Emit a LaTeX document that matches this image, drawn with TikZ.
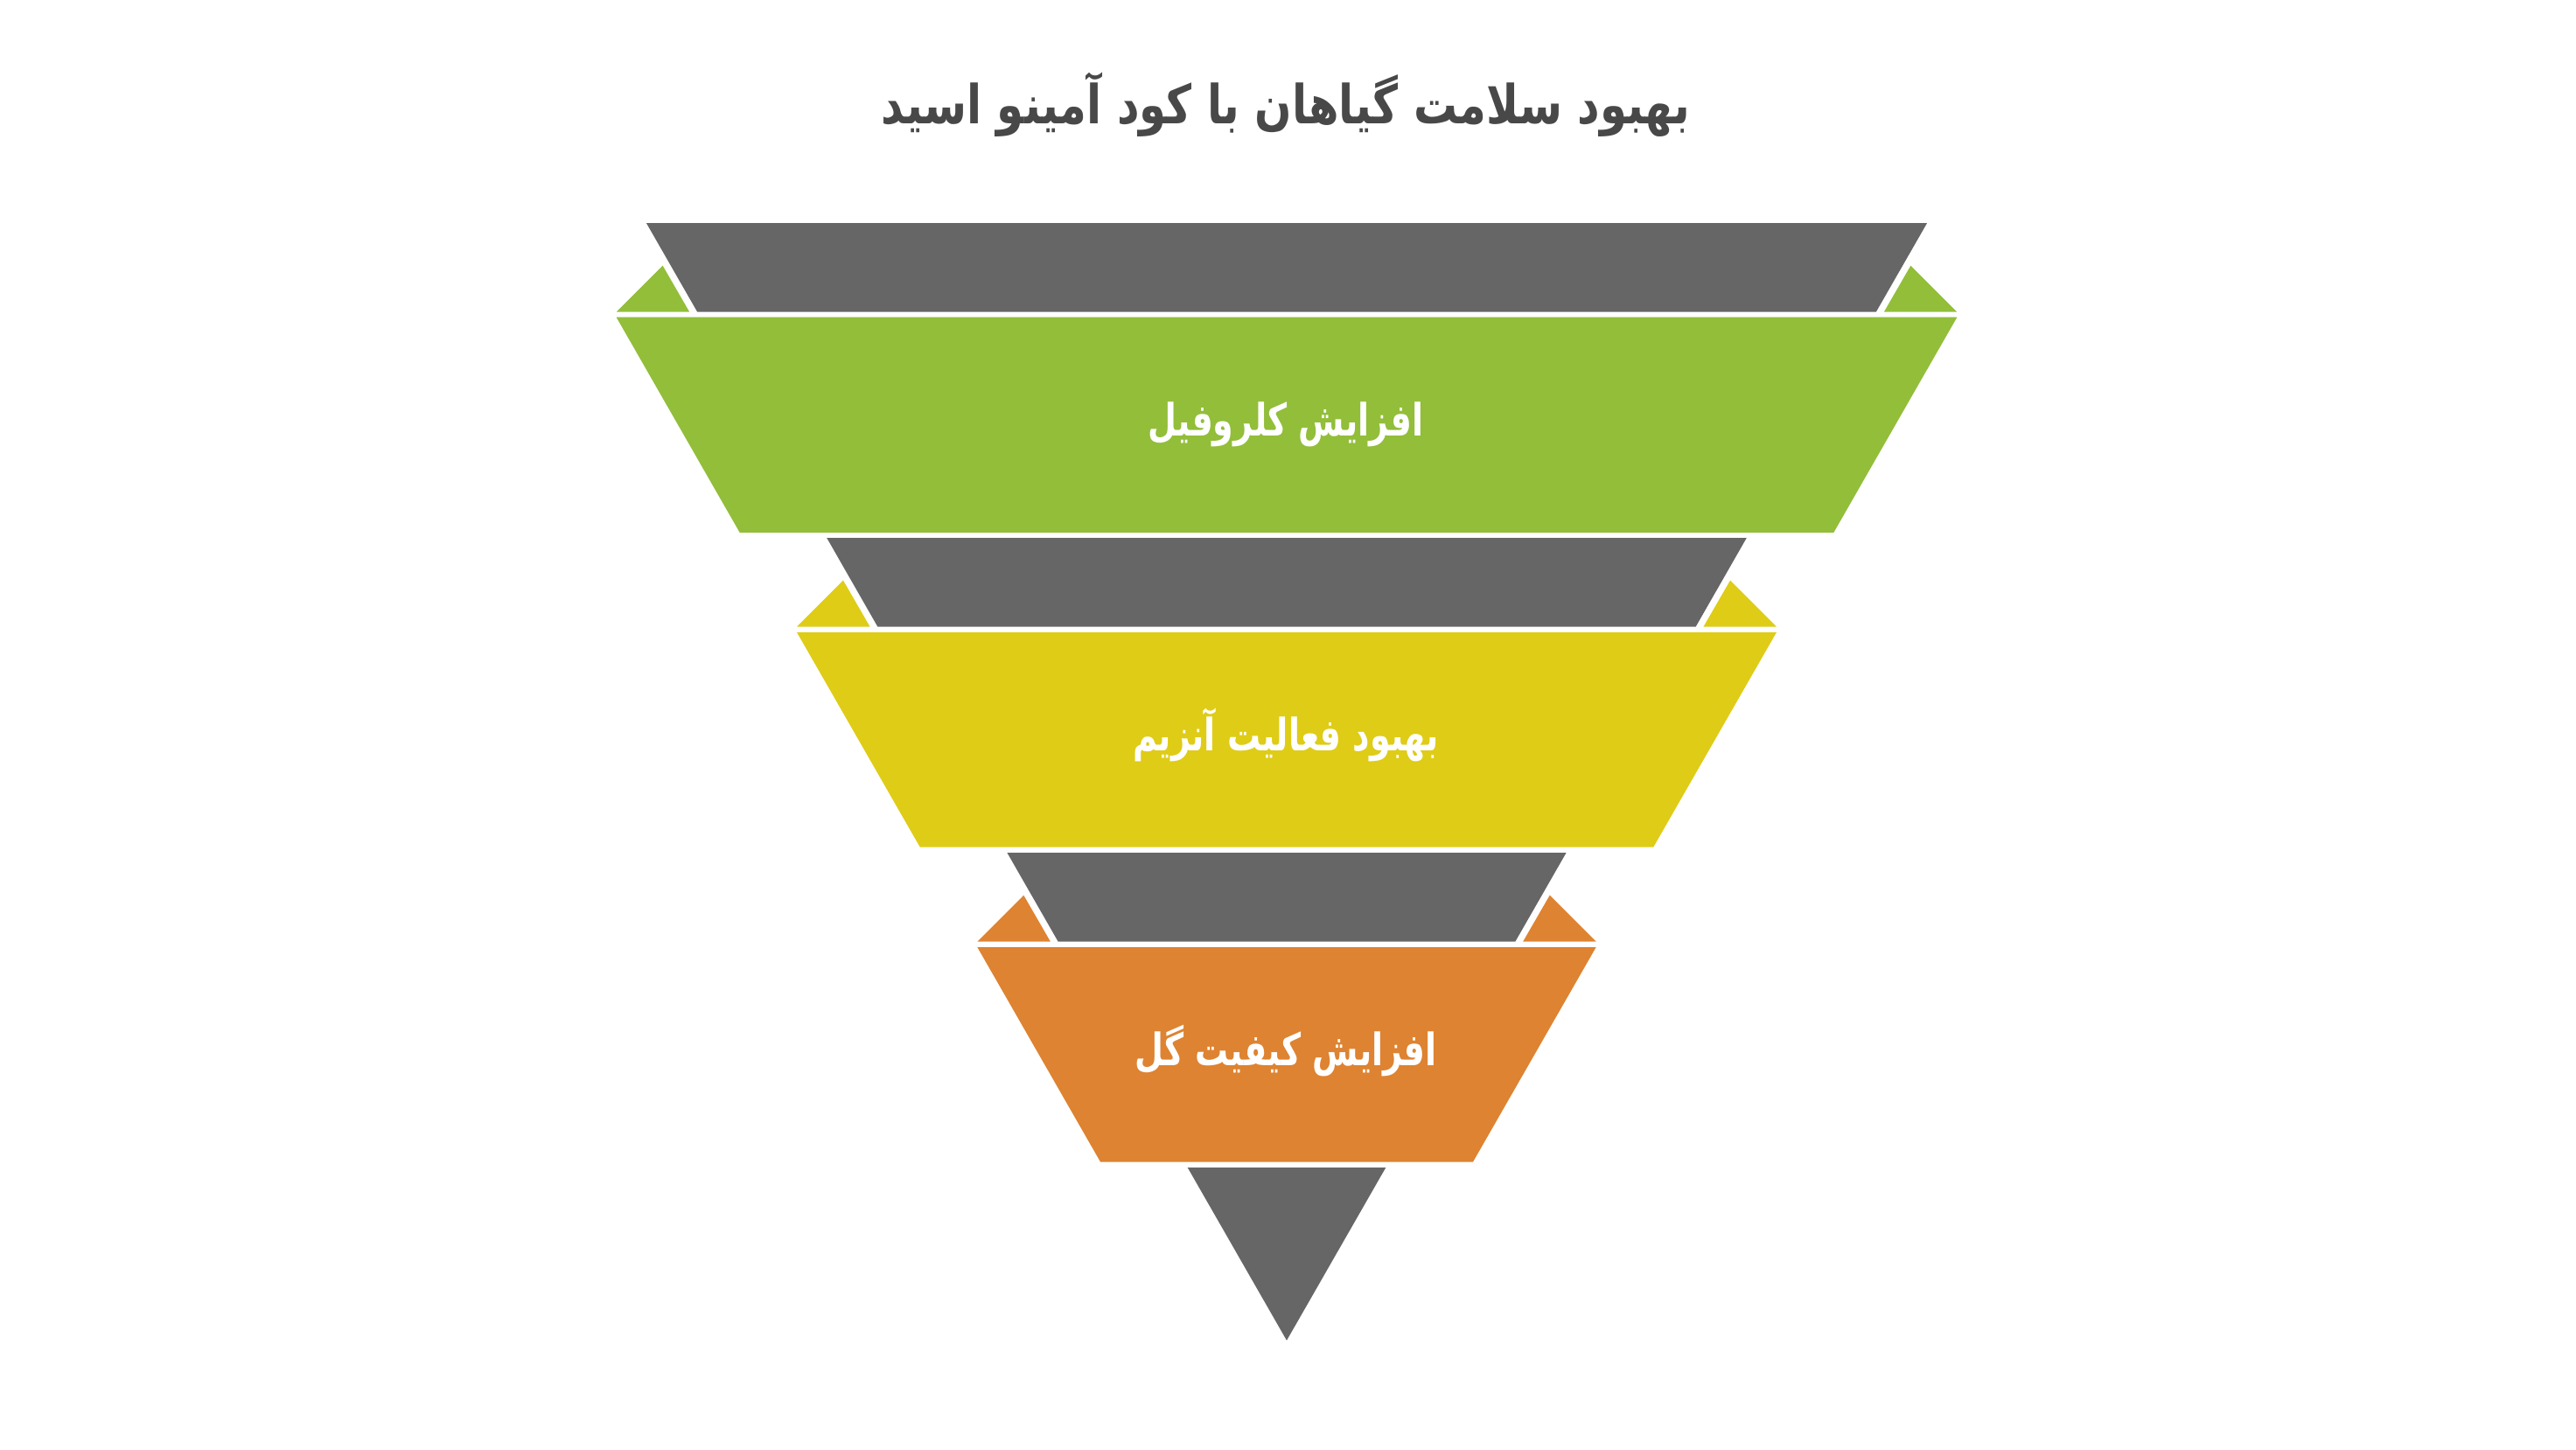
\documentclass[tikz,border=0pt]{standalone}
\usepackage{fontspec}
\newfontfamily\titlefont[Script=Arabic,FakeStretch=0.81]{DejaVu Sans}
\newfontfamily\labelfont[Script=Arabic,FakeStretch=0.745]{DejaVu Sans}
\TeXXeTstate=1
\definecolor{funnelgray}{RGB}{102,102,102}
\definecolor{leafgreen}{RGB}{146,190,58}
\definecolor{enzyellow}{RGB}{223,204,22}
\definecolor{floworange}{RGB}{222,131,49}
\definecolor{titlegray}{RGB}{72,72,72}
\begin{document}
\begin{tikzpicture}[
    gray part/.style={fill=funnelgray},
    band label/.style={anchor=base,text=white,font=\labelfont\bfseries\fontsize{14.5}{17}\selectfont}]
    \useasboundingbox (0,0) rectangle (29.45,-16.57);
    %% Title
    \node[anchor=base,text=titlegray,font=\titlefont\bfseries\fontsize{17.5}{20}\selectfont] (title) at (14.70,-1.42) {\beginR بهبود سلامت گیاهان با کود آمینو اسید\endR};
    %% Top gray part
    \fill[gray part] (7.389,-2.55) -- (22.031,-2.55) -- (21.448,-3.567) -- (7.972,-3.567) -- cycle;
    %% Chlorophyll
    \fill[leafgreen] (7.046,-3.567) -- (7.576,-3.037) -- (7.882,-3.567) -- cycle;
    \fill[leafgreen] (22.374,-3.567) -- (21.844,-3.037) -- (21.538,-3.567) -- cycle;
    \fill[leafgreen] (7.046,-3.627) -- (22.374,-3.627) -- (20.963,-6.09) -- (8.457,-6.09) -- cycle;
    \node[band label] (chl) at (14.70,-4.98) {\beginR افزایش کلروفیل\endR};
    %% Second gray part
    \fill[gray part] (9.452,-6.15) -- (19.968,-6.15) -- (19.386,-7.167) -- (10.034,-7.167) -- cycle;
    %% Enzyme
    \fill[enzyellow] (9.11,-7.167) -- (9.64,-6.637) -- (9.946,-7.167) -- cycle;
    \fill[enzyellow] (20.31,-7.167) -- (19.78,-6.637) -- (19.474,-7.167) -- cycle;
    \fill[enzyellow] (9.11,-7.23) -- (20.31,-7.23) -- (18.902,-9.687) -- (10.518,-9.687) -- cycle;
    \node[band label] (enz) at (14.70,-8.58) {\beginR بهبود فعالیت آنزیم\endR};
    %% Third gray part
    \fill[gray part] (11.514,-9.75) -- (17.906,-9.75) -- (17.323,-10.767) -- (12.097,-10.767) -- cycle;
    %% Flower
    \fill[floworange] (11.173,-10.767) -- (11.703,-10.237) -- (12.009,-10.767) -- cycle;
    \fill[floworange] (18.247,-10.767) -- (17.717,-10.237) -- (17.411,-10.767) -- cycle;
    \fill[floworange] (11.173,-10.83) -- (18.247,-10.83) -- (16.839,-13.287) -- (12.581,-13.287) -- cycle;
    \node[band label] (flw) at (14.70,-12.18) {\beginR افزایش کیفیت گل\endR};
    %% Bottom tip
    \fill[gray part] (13.577,-13.35) -- (15.843,-13.35) -- (14.71,-15.327) -- cycle;
\end{tikzpicture}
\end{document}
